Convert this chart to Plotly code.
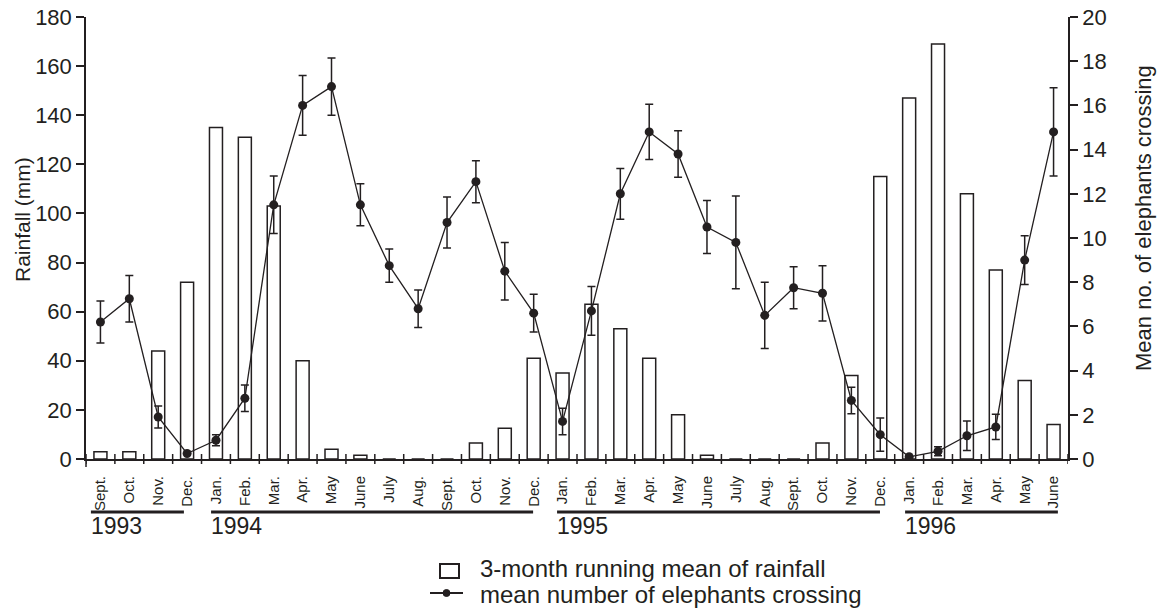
import plotly.graph_objects as go

months = ["Sept.", "Oct.", "Nov.", "Dec.",
          "Jan.", "Feb.", "Mar.", "Apr.", "May", "June", "July", "Aug.", "Sept.", "Oct.", "Nov.", "Dec.",
          "Jan.", "Feb.", "Mar.", "Apr.", "May", "June", "July", "Aug.", "Sept.", "Oct.", "Nov.", "Dec.",
          "Jan.", "Feb.", "Mar.", "Apr.", "May", "June"]

rainfall = [3, 3, 44, 72,
            135, 131, 103, 40, 4, 1.5, 0, 0, 0, 6.5, 12.5, 41,
            35, 63, 53, 41, 18, 1.5, 0, 0, 0, 6.5, 34, 115,
            147, 169, 108, 77, 32, 14]

elephants = [6.2, 7.25, 1.9, 0.25,
             0.85, 2.75, 11.5, 16.0, 16.85, 11.5, 8.75, 6.8, 10.7, 12.55, 8.5, 6.6,
             1.7, 6.7, 12.0, 14.8, 13.8, 10.5, 9.8, 6.5, 7.75, 7.5, 2.65, 1.1,
             0.1, 0.35, 1.05, 1.45, 9.0, 14.8]

elephants_err = [0.95, 1.05, 0.5, 0.0,
                 0.25, 0.6, 1.3, 1.35, 1.3, 0.95, 0.75, 0.85, 1.15, 0.95, 1.3, 0.85,
                 0.6, 1.1, 1.15, 1.25, 1.05, 1.2, 2.1, 1.5, 0.95, 1.25, 0.6, 0.75,
                 0.0, 0.2, 0.67, 0.57, 1.1, 2.0]

years = ["1993", "1994", "1995", "1996"]
# extent of each year's underline, in month-index units
year_start = [-0.33, 3.83, 15.81, 27.86]
year_end = [2.89, 14.98, 26.99, 33.15]

x = list(range(len(months)))
FONT = "Liberation Sans, Arial, sans-serif"
INK = "#231f20"

# pixel helpers for the layout (plot area 86..1068 x 17..459)
L, R, T, B = 86, 1068, 17, 459
def px(v):
    return (v - L) / (R - L)
def py(v):
    return (B - v) / (B - T)

fig = go.Figure()
fig.add_trace(go.Bar(
    x=x, y=rainfall, width=0.45,
    marker=dict(color="white", line=dict(color=INK, width=1.5)),
    name="3-month running mean of rainfall", yaxis="y"))
fig.add_trace(go.Scatter(
    x=x, y=elephants, yaxis="y2", mode="lines+markers",
    line=dict(color=INK, width=1.3),
    marker=dict(color=INK, size=9),
    error_y=dict(type="data", array=elephants_err, color=INK, thickness=1.5, width=4),
    name="mean number of elephants crossing"))

shapes = []
annotations = []
for yr, s, e in zip(years, year_start, year_end):
    shapes.append(dict(type="line", xref="x", yref="paper", x0=s, x1=e,
                       y0=py(512), y1=py(512), line=dict(color=INK, width=3)))
    annotations.append(dict(text=yr, xref="x", yref="paper", x=s - 0.08, y=py(526),
                            xanchor="left", yanchor="middle", showarrow=False,
                            font=dict(size=23, color=INK, family=FONT)))

# boundary ticks on the x axis (crossing the axis line)
for k in range(len(months) + 1):
    shapes.append(dict(type="line", xref="x", yref="paper", x0=k - 0.5, x1=k - 0.5,
                       y0=py(464), y1=py(454), line=dict(color=INK, width=1.5)))
# left axis continues slightly below the x axis
shapes.append(dict(type="line", xref="paper", yref="paper", x0=0, x1=0,
                   y0=py(467), y1=0, line=dict(color=INK, width=1.5)))

# axis titles
annotations.append(dict(text="Rainfall (mm)", xref="paper", yref="paper",
                        x=px(22), y=py(220), textangle=-90, showarrow=False,
                        xanchor="center", yanchor="middle",
                        font=dict(size=21, color=INK, family=FONT)))
annotations.append(dict(text="Mean no. of elephants crossing", xref="paper", yref="paper",
                        x=px(1143), y=py(218), textangle=-90, showarrow=False,
                        xanchor="center", yanchor="middle",
                        font=dict(size=22, color=INK, family=FONT)))

# legend (drawn by hand)
shapes.append(dict(type="rect", xref="paper", yref="paper",
                   x0=px(440), x1=px(459), y0=py(578), y1=py(564),
                   line=dict(color=INK, width=2), fillcolor="white"))
shapes.append(dict(type="line", xref="paper", yref="paper",
                   x0=px(430), x1=px(463), y0=py(593), y1=py(593),
                   line=dict(color=INK, width=2)))
shapes.append(dict(type="circle", xref="paper", yref="paper",
                   x0=px(443), x1=px(450), y0=py(596.5), y1=py(589.5),
                   line=dict(color=INK, width=1), fillcolor=INK))
annotations.append(dict(text="3-month running mean of rainfall", xref="paper", yref="paper",
                        x=px(478), y=py(568), xanchor="left", yanchor="middle", showarrow=False,
                        font=dict(size=24, color=INK, family=FONT)))
annotations.append(dict(text="mean number of elephants crossing", xref="paper", yref="paper",
                        x=px(478), y=py(594), xanchor="left", yanchor="middle", showarrow=False,
                        font=dict(size=24, color=INK, family=FONT)))

fig.update_layout(
    width=1158, height=611,
    margin=dict(l=L, r=1158 - R, t=T, b=611 - B, autoexpand=False),
    paper_bgcolor="white", plot_bgcolor="white",
    font=dict(family=FONT, color=INK),
    showlegend=False,
    xaxis=dict(range=[-0.5, 33.5], tickmode="array", tickvals=x, ticktext=months,
               tickangle=-90, tickfont=dict(size=15), ticks="outside", ticklen=9,
               tickcolor="rgba(0,0,0,0)", showline=True, automargin=False,
               linecolor=INK, linewidth=2, showgrid=False, zeroline=False),
    yaxis=dict(range=[0, 180], dtick=20, ticks="outside", ticklen=8, tickwidth=1.5,
               tickcolor=INK, showline=True, linecolor=INK, linewidth=1.5, automargin=False,
               showgrid=False, zeroline=False, tickfont=dict(size=22)),
    yaxis2=dict(range=[0, 20], dtick=2, overlaying="y", side="right", ticks="outside",
                ticklen=8, tickwidth=1.5, tickcolor=INK, showline=True, linecolor=INK,
                linewidth=1.5, showgrid=False, zeroline=False, tickfont=dict(size=22),
                automargin=False),
    shapes=shapes, annotations=annotations,
)

fig.write_html("out.html")
